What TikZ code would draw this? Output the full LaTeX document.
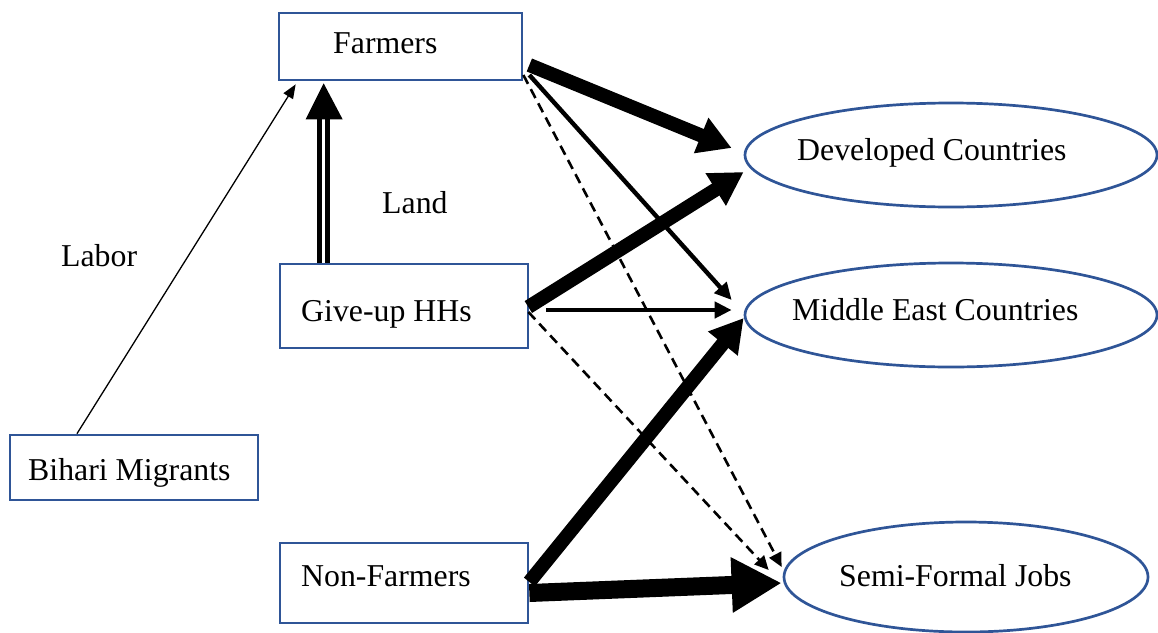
\documentclass[tikz,border=0pt]{standalone}
\usepackage{fontspec}
\setmainfont{Liberation Serif}
\usetikzlibrary{arrows.meta,shapes.geometric}
\definecolor{boxblue}{HTML}{2F5597}
\begin{document}
\begin{tikzpicture}[x=1pt,y=-1pt,
  box/.style={draw=boxblue,line width=2.7pt,rectangle,inner sep=0pt},
  oval/.style={draw=boxblue,line width=2.7pt,ellipse,inner sep=0pt},
  txt/.style={anchor=base west,inner sep=0pt,font=\fontsize{31.8}{38}\selectfont},
  heavy/.style={line width=14pt,-{Triangle[length=33pt,width=36pt]}},
  heaviest/.style={line width=18pt,-{Triangle[length=50pt,width=52pt]}},
  medium/.style={line width=4.4pt,-{Triangle[length=17pt,width=16pt]}},
  dashline/.style={line width=2.6pt,dash pattern=on 10pt off 6pt,-{Triangle[length=14pt,width=13pt]}},
  thin/.style={line width=1.3pt,-{Triangle[length=14pt,width=11pt]}},
  dblline/.style={line width=4.5pt}
]
\useasboundingbox (0,0) rectangle (1158,632);

% boxes
\node[box,minimum width=243pt,minimum height=67pt] (farm) at (400.5,46.5) {};
\node[box,minimum width=248pt,minimum height=84pt] (give) at (404,306) {};
\node[box,minimum width=248pt,minimum height=80pt] (non) at (404,583) {};
\node[box,minimum width=248pt,minimum height=65pt] (bih) at (134,467.5) {};
% ellipses
\node[oval,minimum width=412pt,minimum height=104pt] (dev) at (951,155) {};
\node[oval,minimum width=412pt,minimum height=104pt] (me) at (951,315) {};
\node[oval,minimum width=364pt,minimum height=110pt] (sfj) at (966,577) {};

% texts
\node[txt] (farmT) at (333,53) {Farmers};
\node[txt] (giveT) at (301,321) {Give-up HHs};
\node[txt] (nonT) at (301,586) {Non-Farmers};
\node[txt] (bihT) at (28,480) {Bihari Migrants};
\node[txt] (devT) at (797,160) {Developed Countries};
\node[txt] (meT) at (792,320) {Middle East Countries};
\node[txt] (sfjT) at (839,586) {Semi-Formal Jobs};
\node[txt] (labor) at (61,266) {Labor};
\node[txt] (land) at (382,213) {Land};

% Labor arrow
\draw[thin] ([shift={(-57,0)}]bih.north) -- ([shift={(18,3)}]farm.south west);

% Land double arrow
\draw[dblline] ([shift={(41,0)}]give.north west) -- ([shift={(42,37)}]farm.south west);
\draw[dblline] ([shift={(49,0)}]give.north west) -- ([shift={(50,37)}]farm.south west);
\fill ([shift={(28,38)}]farm.south west) -- ([shift={(46,2)}]farm.south west) -- ([shift={(65,38)}]farm.south west) -- cycle;

% Farmers
\draw[heavy] ([shift={(6,18.5)}]farm.east) -- ([shift={(-12,-7)}]dev.west);
\draw[medium] ([shift={(6,28.5)}]farm.east) -- ([shift={(-12,-15)}]me.west);
\draw[dashline] ([shift={(0,28.5)}]farm.east) -- ([shift={(-1,-10)}]sfj.west);

% Give-up HHs
\draw[heavy] ([shift={(-1,1)}]give.east) -- ([shift={(0,17)}]dev.west);
\draw[medium] ([shift={(17,4)}]give.east) -- ([shift={(-12,-5)}]me.west);
\draw[dashline] ([shift={(-1,6)}]give.east) -- ([shift={(-14,-7)}]sfj.west);

% Non-Farmers
\draw[heavy] ([shift={(0,-1)}]non.east) -- ([shift={(0,3)}]me.west);
\draw[heaviest] ([shift={(0,10)}]non.east) -- ([shift={(-1,6)}]sfj.west);
\end{tikzpicture}
\end{document}
